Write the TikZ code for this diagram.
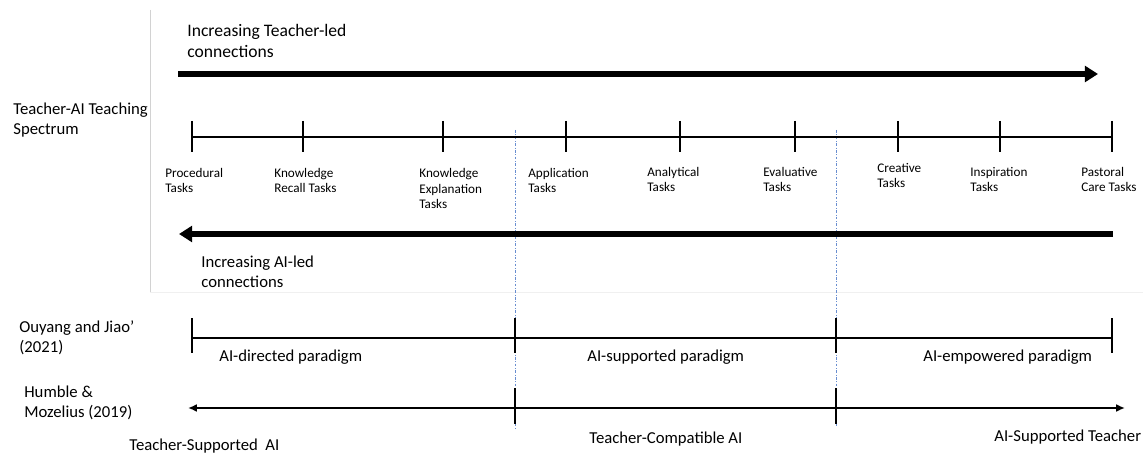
\documentclass[tikz,border=0pt]{standalone}
\usepackage{fontspec}
\setmainfont{Carlito}
\usetikzlibrary{arrows.meta}
\definecolor{guideblue}{RGB}{68,114,196}
\tikzset{
  bigarrow/.style={line width=3.3pt,-{Triangle[length=7.5pt,width=9pt]}},
  scaleline/.style={line width=1.6pt},
  tickmark/.style={line width=1.4pt},
  guide/.style={guideblue!80,line width=0.4pt,dash pattern=on 1.5pt off 1pt on 0.3pt off 1pt},
  tasklabel/.style={anchor=base west,inner sep=0pt,align=left,font=\fontsize{7.5}{9}\selectfont},
  sidelabel/.style={anchor=base west,inner sep=0pt,align=left,font=\fontsize{9.5}{11.4}\selectfont},
  paralabel/.style={anchor=base west,inner sep=0pt,font=\fontsize{9.5}{11.4}\selectfont}
}
\begin{document}
\begin{tikzpicture}[x=0.02cm,y=-0.02cm]
  \useasboundingbox (0,0) rectangle (1143,455);
  % Frame
  \draw[gray!35,line width=0.5pt] (150,10) -- (150,292);
  \draw[gray!12,line width=0.5pt] (150,292) -- (1143,292);
  % Guides
  \coordinate (g1top) at (515,130);
  \coordinate (g1bot) at (515,430);
  \coordinate (g2top) at (836,130);
  \coordinate (g2bot) at (836,426);
  \draw[guide] (g1top) -- (g1bot);
  \draw[guide] (g2top) -- (g2bot);
  % Teacher-led arrow (labels sit on the baseline of their last line)
  \coordinate (tlA) at (178,74);
  \coordinate (tlB) at (1098,74);
  \draw[bigarrow] (tlA) -- (tlB);
  \node[sidelabel,font=\fontsize{10}{12.2}\selectfont] (tlead) at (187,58) {Increasing Teacher-led\\connections};
  % Spectrum
  \node[sidelabel] (spec) at (13,135) {Teacher-AI Teaching\\Spectrum};
  \foreach \x [count=\i] in {192,303,443,566,680,795,898,1000,1112}
    \coordinate (t\i) at (\x,137);
  \draw[scaleline] (t1) -- (t9);
  \foreach \i in {1,...,9}
    \draw[tickmark] ([yshift=0.32cm]t\i) -- ([yshift=-0.30cm]t\i);
  \node[tasklabel] (proc) at (165,193) {Procedural\\Tasks};
  \node[tasklabel] (recall) at (274,193) {Knowledge\\Recall Tasks};
  \node[tasklabel] (expl) at (419,209) {Knowledge\\Explanation\\Tasks};
  \node[tasklabel] (appl) at (528,193) {Application\\Tasks};
  \node[tasklabel] (anal) at (647,192) {Analytical\\Tasks};
  \node[tasklabel] (eval) at (763,192) {Evaluative\\Tasks};
  \node[tasklabel] (crea) at (877,188) {Creative\\Tasks};
  \node[tasklabel] (insp) at (970,192) {Inspiration\\Tasks};
  \node[tasklabel] (past) at (1081,192) {Pastoral\\Care Tasks};
  % AI-led arrow
  \coordinate (alA) at (1113,234);
  \coordinate (alB) at (179,234);
  \draw[bigarrow] (alA) -- (alB);
  \node[sidelabel] (alead) at (201,288) {Increasing AI-led\\connections};
  % Ouyang and Jiao
  \node[sidelabel] (ouyang) at (19,353) {Ouyang and Jiao’\\(2021)};
  \foreach \x [count=\i] in {192,515,836,1112}
    \coordinate (o\i) at (\x,338);
  \draw[scaleline] (o1) -- (o4);
  \foreach \i in {1,...,4}
    \draw[tickmark] ([yshift=0.40cm]o\i) -- ([yshift=-0.30cm]o\i);
  \node[paralabel] (pdir) at (219,362) {AI-directed paradigm};
  \node[paralabel] (psup) at (587,362) {AI-supported paradigm};
  \node[paralabel] (pemp) at (923,362) {AI-empowered paradigm};
  % Humble and Mozelius
  \node[sidelabel] (humble) at (24,418) {Humble \&\\Mozelius (2019)};
  \coordinate (h1) at (188,408);
  \coordinate (h2) at (515,408);
  \coordinate (h3) at (836,408);
  \coordinate (h4) at (1125,408);
  \draw[line width=1.1pt,{Latex[length=5pt,width=4.5pt]}-{Latex[length=5pt,width=4.5pt]}] (h1) -- (h4);
  \draw[tickmark] ([yshift=0.40cm]h2) -- ([yshift=-0.32cm]h2);
  \draw[tickmark] ([yshift=0.40cm]h3) -- ([yshift=-0.32cm]h3);
  \node[paralabel] (tsai) at (129,451) {Teacher-Supported\ \ AI};
  \node[paralabel] (tcai) at (589,444) {Teacher-Compatible AI};
  \node[paralabel] (aist) at (994,442) {AI-Supported Teacher};
\end{tikzpicture}
\end{document}
